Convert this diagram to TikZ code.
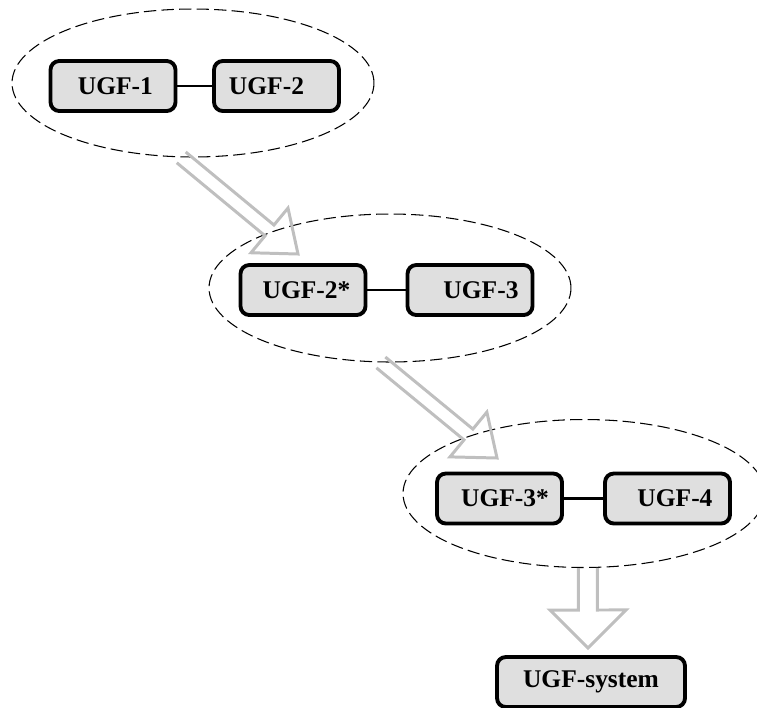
\documentclass[tikz,border=0pt]{standalone}
\usepackage{fontspec}
\setmainfont{Liberation Serif}
\usetikzlibrary{calc,shapes.geometric}

% hollow block arrow: from, tip, half shaft, half head, head length
\newcommand{\hollowarrow}[5]{%
  \coordinate (hb) at ($(#2)!#5!(#1)$);
  \draw[fat] ($(#1)!#3!90:(#2)$) -- ($(hb)!#3!90:(#2)$) -- ($(hb)!#4!90:(#2)$) -- (#2)
    -- ($(hb)!#4!-90:(#2)$) -- ($(hb)!#3!-90:(#2)$) -- ($(#1)!#3!-90:(#2)$);
}

\begin{document}
\begin{tikzpicture}[x=0.02cm, y=-0.02cm,
  zone/.style={ellipse, draw, line width=0.6pt, dash pattern=on 7pt off 3pt,
    minimum width=7.24cm, minimum height=2.96cm, inner sep=0pt},
  box/.style={draw, line width=2.2pt, rounded corners=5pt, fill=gray!25,
    minimum width=2.5cm, minimum height=1cm, inner sep=0pt,
    font=\bfseries\fontsize{14.5}{17}\selectfont},
  nudge/.style={execute at begin node={\hspace*{#1}}},
  link/.style={line width=1.2pt},
  fat/.style={draw=gray!50, line width=1.7pt}]
\useasboundingbox (0,0) rectangle (757,707);
\clip (0,0) rectangle (757,707);

\foreach \n/\x/\y in {e1/193/83, e2/390/288, e3/584/493.5}
  \node[zone] (\n) at (\x,\y) {};

\coordinate (s1) at (e1.-99);   \coordinate (t1) at (298,254);
\coordinate (s2) at (e2.-97.5); \coordinate (t2) at (497,458);
\coordinate (s3) at (e3.-87);   \coordinate (t3) at (588,648);
\hollowarrow{s1}{t1}{0.14cm}{0.58cm}{0.74cm}
\hollowarrow{s2}{t2}{0.14cm}{0.58cm}{0.74cm}
\hollowarrow{s3}{t3}{0.19cm}{0.76cm}{0.76cm}

\foreach \n/\x/\y/\s/\t in {b1/113/86/2.8pt/UGF-1, b2/276.5/86/-11.4pt/UGF-2,
    b2s/303/290/4pt/UGF-2*, b3/470/290/12.5pt/UGF-3,
    b3s/499.5/498.5/6.3pt/UGF-3*, b4/667.5/498.5/8.5pt/UGF-4}
  \node[box, nudge=\s] (\n) at (\x,\y) {\t};
\node[box, minimum width=3.76cm] (sys) at (591,682) {UGF-system};

\foreach \a/\b in {b1/b2, b2s/b3, b3s/b4}
  \draw[link] (\a) -- (\b);
\end{tikzpicture}
\end{document}
